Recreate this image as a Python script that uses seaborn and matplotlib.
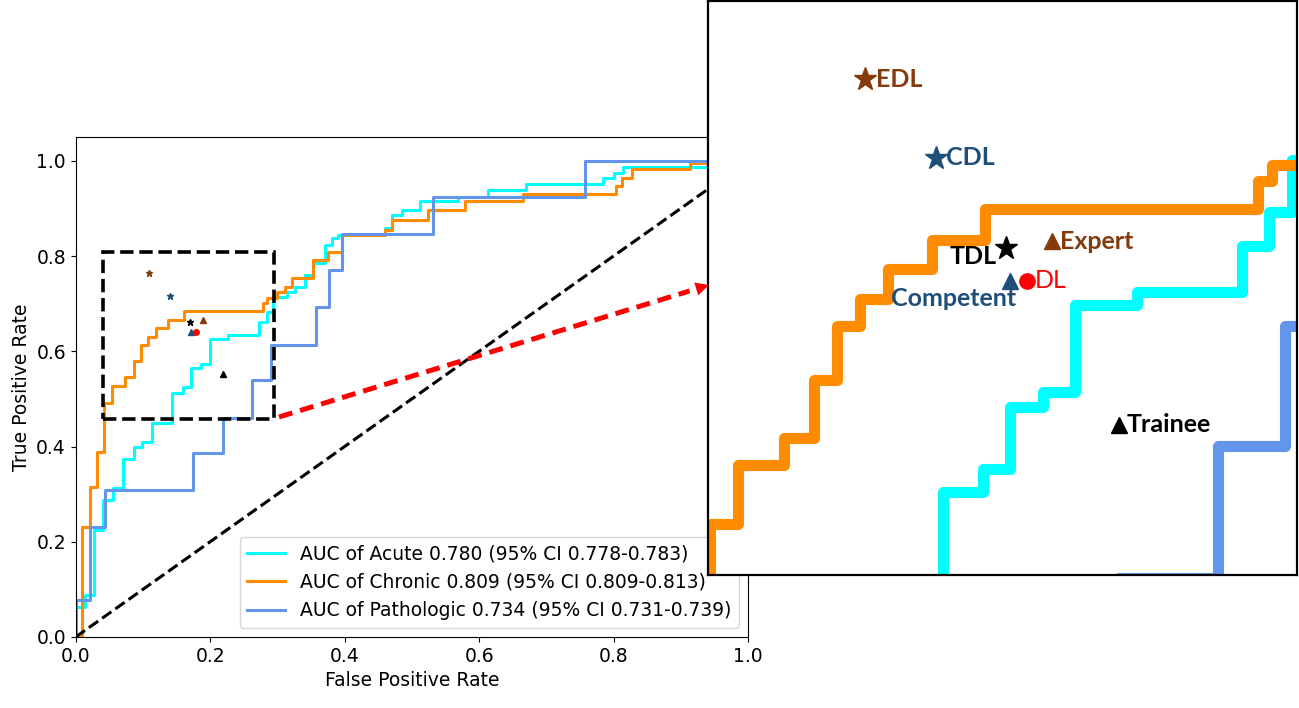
import matplotlib
matplotlib.use('Agg')
import matplotlib.pyplot as plt
import seaborn as sns
from matplotlib.patches import Rectangle, FancyArrowPatch
from matplotlib.lines import Line2D

plt.rcParams['font.size'] = 13.5

# ROC step corners: fpr where the curve steps up, tpr it reaches
acute_fpr = [0, 0, 0.014, 0.027, 0.041, 0.056, 0.071, 0.086, 0.098, 0.113, 0.143,
             0.160, 0.172, 0.186, 0.200, 0.227, 0.272, 0.284, 0.294, 0.314, 0.326,
             0.341, 0.353, 0.371, 0.381, 0.390, 0.460, 0.470, 0.485, 0.512, 0.569,
             0.614, 0.670, 0.785, 0.800, 0.814, 1.0]
acute_tpr = [0, 0.064, 0.088, 0.225, 0.288, 0.312, 0.373, 0.400, 0.410, 0.449, 0.512,
             0.526, 0.564, 0.573, 0.626, 0.634, 0.662, 0.683, 0.715, 0.725, 0.736,
             0.761, 0.785, 0.824, 0.838, 0.845, 0.859, 0.887, 0.897, 0.915, 0.925,
             0.938, 0.951, 0.964, 0.975, 0.987, 1.0]

chronic_fpr = [0, 0.009, 0.021, 0.031, 0.042, 0.054, 0.074, 0.087, 0.097, 0.107, 0.119,
               0.138, 0.161, 0.279, 0.285, 0.299, 0.311, 0.321, 0.353, 0.376, 0.396,
               0.460, 0.470, 0.524, 0.579, 0.666, 0.804, 0.813, 0.827, 0.913, 1.0]
chronic_tpr = [0, 0.230, 0.316, 0.388, 0.492, 0.528, 0.545, 0.580, 0.613, 0.630, 0.648,
               0.666, 0.685, 0.702, 0.712, 0.725, 0.736, 0.754, 0.792, 0.809, 0.845,
               0.855, 0.876, 0.897, 0.915, 0.931, 0.947, 0.964, 0.983, 0.995, 1.0]

patho_fpr = [0, 0, 0.022, 0.044, 0.175, 0.219, 0.262, 0.291, 0.357, 0.377, 0.396,
             0.532, 0.758, 1.0]
patho_tpr = [0, 0.078, 0.232, 0.309, 0.386, 0.459, 0.540, 0.613, 0.692, 0.771, 0.847,
             0.925, 1.0, 1.0]

curve_labels = ['AUC of Acute 0.780 (95% CI 0.778-0.783)',
                'AUC of Chronic 0.809 (95% CI 0.809-0.813)',
                'AUC of Pathologic 0.734 (95% CI 0.731-0.739)']

# reader operating points
reader_names = ['EDL', 'CDL', 'TDL', 'Expert', 'Competent', 'DL', 'Trainee']
reader_fpr = [0.109, 0.140, 0.170, 0.190, 0.172, 0.179, 0.219]
reader_tpr = [0.764, 0.716, 0.661, 0.665, 0.641, 0.641, 0.553]

brown = '#843C0C'
navy = '#1F4E79'
reader_style = {
    'EDL': dict(marker='*', color=brown, ms=(5, 17), off=(11, 0), ha='left', weight='bold'),
    'CDL': dict(marker='*', color=navy, ms=(5, 17), off=(10, 0), ha='left', weight='bold'),
    'TDL': dict(marker='*', color='black', ms=(5, 17), off=(-9, -9), ha='right', weight='bold'),
    'Expert': dict(marker='^', color=brown, ms=(4, 11), off=(8, 0), ha='left', weight='bold'),
    'Competent': dict(marker='^', color=navy, ms=(4, 11), off=(-57, -18), ha='center', weight='bold'),
    'DL': dict(marker='o', color='red', ms=(4, 11), off=(8, 0), ha='left', weight='normal'),
    'Trainee': dict(marker='^', color='black', ms=(4, 11), off=(8, 0), ha='left', weight='bold'),
}

curves = [(acute_fpr, acute_tpr, 'aqua'),
          (chronic_fpr, chronic_tpr, 'darkorange'),
          (patho_fpr, patho_tpr, 'cornflowerblue')]

fig = plt.figure(figsize=(12.99, 7.08), dpi=100)
ax = fig.add_axes([75.7 / 1299, 71 / 708, 672.3 / 1299, 500 / 708])

for (fpr, tpr, col), lab in zip(curves, curve_labels):
    sns.lineplot(x=fpr, y=tpr, sort=False, estimator=None, drawstyle='steps-post',
                 color=col, lw=2.2, label=lab, ax=ax)

ax.plot([0, 1], [0, 1], 'k--', lw=2.2)

for name, fx, ty in zip(reader_names, reader_fpr, reader_tpr):
    st = reader_style[name]
    ax.plot(fx, ty, marker=st['marker'], color=st['color'], ms=st['ms'][0], ls='none')

# zoom region
zx0, zx1, zy0, zy1 = 0.04, 0.295, 0.457, 0.808
ax.add_patch(Rectangle((zx0, zy0), zx1 - zx0, zy1 - zy0, fill=False, ls='--',
                       lw=2.6, ec='black', zorder=5))

ax.set_xlim(0, 1)
ax.set_ylim(0, 1.05)
ax.set_xticks([0, 0.2, 0.4, 0.6, 0.8, 1.0])
ax.set_yticks([0, 0.2, 0.4, 0.6, 0.8, 1.0])
ax.set_xlabel('False Positive Rate')
ax.set_ylabel('True Positive Rate')
ax.legend(loc='lower right', fontsize=13.5)

# magnified inset
axins = fig.add_axes([707.5 / 1299, 133 / 708, 589.5 / 1299, 574 / 708])
axins.set_facecolor('white')
for fpr, tpr, col in curves:
    sns.lineplot(x=fpr, y=tpr, sort=False, estimator=None, drawstyle='steps-post',
                 color=col, lw=8, legend=False, ax=axins)
for name, fx, ty in zip(reader_names, reader_fpr, reader_tpr):
    st = reader_style[name]
    axins.plot(fx, ty, marker=st['marker'], color=st['color'], ms=st['ms'][1], ls='none')
    axins.annotate(name, (fx, ty), xytext=st['off'], textcoords='offset pixels',
                   ha=st['ha'], va='center', color=st['color'], fontsize=18,
                   fontweight=st['weight'], family=['Lato', 'DejaVu Sans'])
axins.set_xlim(0.041, 0.296)
axins.set_ylim(0.461, 0.812)
axins.set_xticks([])
axins.set_yticks([])
for sp in axins.spines.values():
    sp.set_linewidth(1.6)
    sp.set_color('black')

# red dashed arrow from zoom box to inset
p0 = (279 / 1299, 1 - 417 / 708)
p1 = (709 / 1299, 1 - 285 / 708)
pm = (p0[0] + 0.955 * (p1[0] - p0[0]), p0[1] + 0.955 * (p1[1] - p0[1]))
fig.add_artist(Line2D([p0[0], pm[0]], [p0[1], pm[1]], transform=fig.transFigure,
                      color='red', lw=3.6, dashes=(2.8, 1.6)))
fig.add_artist(FancyArrowPatch(pm, p1, transform=fig.transFigure, arrowstyle='-|>',
                               mutation_scale=24, color='red', lw=0,
                               shrinkA=0, shrinkB=0))

fig.savefig('out.png', dpi=100)
